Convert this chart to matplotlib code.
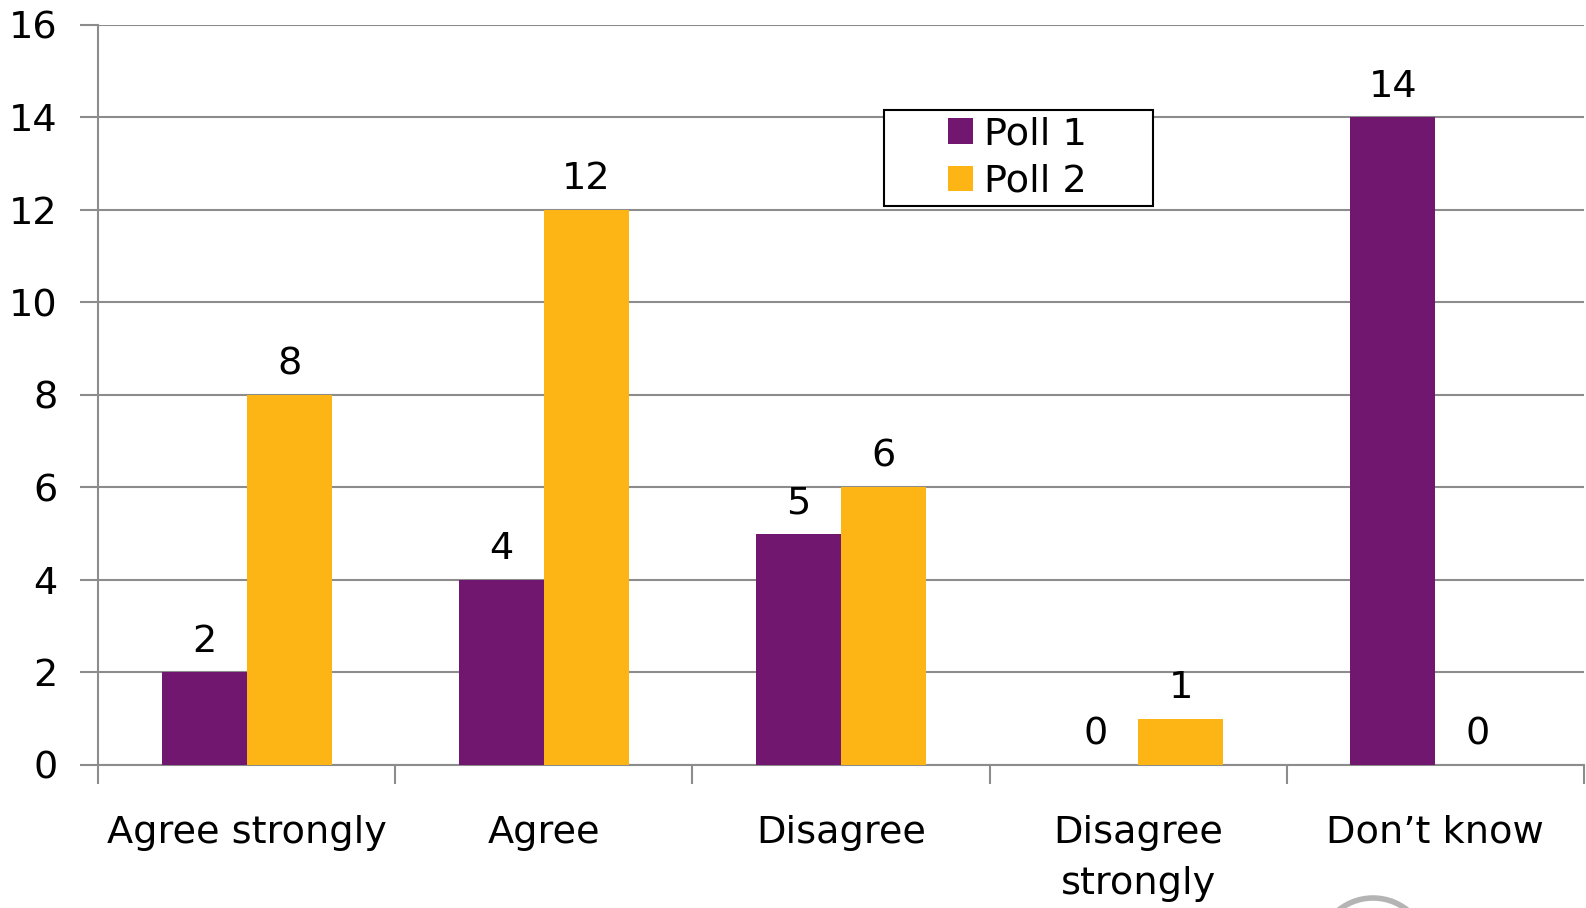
import matplotlib.pyplot as plt
import numpy as np
from matplotlib.patches import Circle, Rectangle
from matplotlib.transforms import IdentityTransform

categories = ['Agree strongly', 'Agree', 'Disagree', 'Disagree\nstrongly', 'Don\u2019t know']
poll1 = [2, 4, 5, 0, 14]
poll2 = [8, 12, 6, 1, 0]
series_names = ['Poll 1', 'Poll 2']
colors = ['#71176F', '#FDB415']

plt.rcParams['font.family'] = ['DejaVu Sans']
fs = 27.5

fig = plt.figure(figsize=(15.86, 9.08), dpi=100)
ax = fig.add_axes([0.0618, 0.1575, 0.9369, 0.815])

x = np.arange(len(categories))
w = 0.286
b1 = ax.bar(x - w / 2, poll1, w, color=colors[0], label=series_names[0], zorder=3)
b2 = ax.bar(x + w / 2, poll2, w, color=colors[1], label=series_names[1], zorder=3)
for bars in (b1, b2):
    ax.bar_label(bars, padding=9, fontsize=fs)

ax.set_xlim(-0.5, len(categories) - 0.5)
ax.set_ylim(0, 16)
ax.set_yticks(range(0, 17, 2))
ax.yaxis.grid(True, color='#8c8c8c', linewidth=1.5, zorder=0)
ax.set_axisbelow(True)

ax.set_xticks(x)
ax.set_xticklabels(categories, fontsize=fs, va='top', linespacing=1.55)
ax.tick_params(axis='x', length=0, pad=36)
ax.set_xticks(np.arange(-0.5, len(categories), 1), minor=True)
ax.tick_params(axis='x', which='minor', length=14, width=1.5, color='#8c8c8c')
ax.tick_params(axis='y', length=13, width=1.5, color='#8c8c8c', labelsize=fs, pad=16)

for s in ['top', 'right']:
    ax.spines[s].set_visible(False)
for s in ['left', 'bottom']:
    ax.spines[s].set_color('#8c8c8c')
    ax.spines[s].set_linewidth(1.5)

# legend frame drawn separately to get the wide box of the original
ax.add_patch(Rectangle((0.529, 0.755), 0.181, 0.13, transform=ax.transAxes,
                       fill=True, facecolor='white', edgecolor='black',
                       linewidth=1.5, zorder=5, clip_on=False))
leg = ax.legend(loc='center left', bbox_to_anchor=(0.572, 0.82), fontsize=fs,
                frameon=False, handlelength=0.65, handleheight=0.65,
                handletextpad=0.3, borderpad=0, labelspacing=0.3,
                borderaxespad=0)
leg.set_zorder(6)

# partial logo ring at the bottom edge
fig.patches.append(Circle((1373, -45), 55, transform=IdentityTransform(),
                          fill=False, edgecolor='#b4b4b4', linewidth=4))

fig.savefig('out.png', dpi=100)
